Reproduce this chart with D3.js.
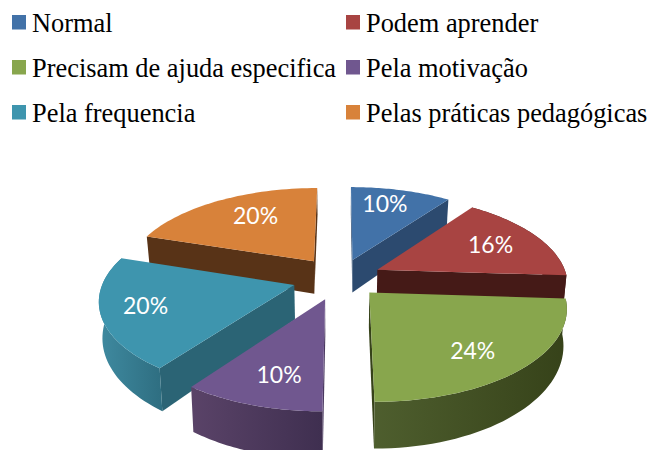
<!DOCTYPE html>
<html>
<head>
<meta charset="utf-8">
<script src="https://cdn.jsdelivr.net/npm/d3@7"></script>
<style>
html, body { margin: 0; padding: 0; background: #fff; }
svg { display: block; }
</style>
</head>
<body>
<svg id="chart" width="651" height="450"></svg>
<script>
'use strict';

var categories = ['Normal', 'Podem aprender', 'Precisam de ajuda especifica', 'Pela motivação', 'Pela frequencia', 'Pelas práticas pedagógicas'];
var values = [10, 16, 24, 10, 20, 20];
var topColors = ['#4272a8', '#a84442', '#88a64d', '#70578f', '#3e95ae', '#d8823a'];
var sideColors = ['#2c4a6f', '#451a17', '#364219', '#4a3860', '#2b6475', '#583317'];
var rimFrom = ['#2c4a6f', '#451a17', '#4e5e2e', '#5a4368', '#3f8aa0', '#583317'];
var rimTo = ['#2c4a6f', '#451a17', '#364219', '#3f2f50', '#2f6f82', '#583317'];
var explode = [0.22, 0.22, 0.22, 0.245, 0.25, 0.24];
var drawOrder = [5, 0, 1, 4, 3, 2];
var labelShiftX = [-3, 1, 0, 3, -15, 10];
var labelShiftY = [-5, 0, 7, 5, 1, -1];

var svg = d3.select('#chart');
var cx = 340, cy = 278;
var S = 190, tilt = 0.466, k = 0.147;
var d0 = 34, k2 = 0.235, bottomX = 0.985;

// perspective of the tilted pie: y > 0 goes to the back
function Project(x, y, bBottom)
{
	var den = 1 + k * y;
	var px = S * x / den;
	var py = -S * tilt * y / den;
	if (bBottom)
	{
		px = px * bottomX;
		py = py + d0 / (1 + k2 * y);
	}
	return [cx + px, cy + py];
}

var pie = d3.pie().sort(null)(values);
var line = d3.line();
var defs = svg.append('defs');

function Rim(d, i, r, a)
{
	var mid = (d.startAngle + d.endAngle) / 2;
	return [r * Math.sin(a) + explode[i] * Math.sin(mid), r * Math.cos(a) + explode[i] * Math.cos(mid)];
}

function Area(p)
{
	return d3.polygonArea(p);
}

drawOrder.forEach(function(i)
{
	var d = pie[i];
	var g = svg.append('g');
	var apex = Rim(d, i, 0, 0);
	var aTop = [], aBottom = [];
	d3.range(0, 41).forEach(function(n)
	{
		var a = d.startAngle + (d.endAngle - d.startAngle) * n / 40;
		var w = Rim(d, i, 1, a);
		aTop.push(Project(w[0], w[1], false));
		aBottom.push(Project(w[0], w[1], true));
	});

	var pApexTop = Project(apex[0], apex[1], false);
	var pApexBottom = Project(apex[0], apex[1], true);
	var sides = [
		[pApexTop, aTop[0], aBottom[0], pApexBottom],
		[aTop[40], pApexTop, pApexBottom, aBottom[40]]
	];
	sides.forEach(function(p)
	{
		if (Area(p) > 0)
		{
			g.append('path').attr('d', line(p) + 'Z').attr('fill', sideColors[i]);
		}
	});

	var xs = aTop.map(function(p) { return p[0]; });
	var id = 'rim' + i;
	var grad = defs.append('linearGradient').attr('id', id)
		.attr('gradientUnits', 'userSpaceOnUse')
		.attr('x1', d3.min(xs)).attr('x2', d3.max(xs)).attr('y1', 0).attr('y2', 0);
	grad.append('stop').attr('offset', 0).attr('stop-color', rimFrom[i]);
	grad.append('stop').attr('offset', 1).attr('stop-color', rimTo[i]);

	if (d.endAngle > Math.PI / 2 && d.startAngle < Math.PI * 1.5)
	{
		var rim = aTop.concat(aBottom.slice().reverse());
		g.append('path').attr('d', line(rim) + 'Z').attr('fill', 'url(#' + id + ')');
	}

	g.append('path')
		.attr('d', line([pApexTop].concat(aTop)) + 'Z')
		.attr('fill', topColors[i]);
});

// percent labels go on top of every slice
pie.forEach(function(d, i)
{
	var mid = (d.startAngle + d.endAngle) / 2;
	var w = Rim(d, i, 0.7, mid);
	var p = Project(w[0], w[1], false);
	svg.append('text')
		.attr('x', p[0] + labelShiftX[i]).attr('y', p[1] + 8 + labelShiftY[i])
		.attr('text-anchor', 'middle')
		.attr('font-family', 'Lato')
		.attr('font-size', 23)
		.attr('fill', '#fff')
		.text(d3.format('d')(values[i]) + '%');
});

var legendCol = d3.scaleOrdinal().domain([0, 1]).range([12, 346]);
var legendRow = d3.scaleOrdinal().domain([0, 1, 2]).range([15, 60, 105]);

categories.forEach(function(c, i)
{
	var col = i % 2, row = Math.floor(i / 2);
	svg.append('rect')
		.attr('x', legendCol(col)).attr('y', legendRow(row))
		.attr('width', 14).attr('height', 14.5)
		.attr('fill', topColors[i]);
	svg.append('text')
		.attr('x', legendCol(col) + 20).attr('y', legendRow(row) + 17)
		.attr('font-family', 'Liberation Serif')
		.attr('font-size', 26.4)
		.attr('fill', '#000')
		.text(c);
});
</script>
</body>
</html>
